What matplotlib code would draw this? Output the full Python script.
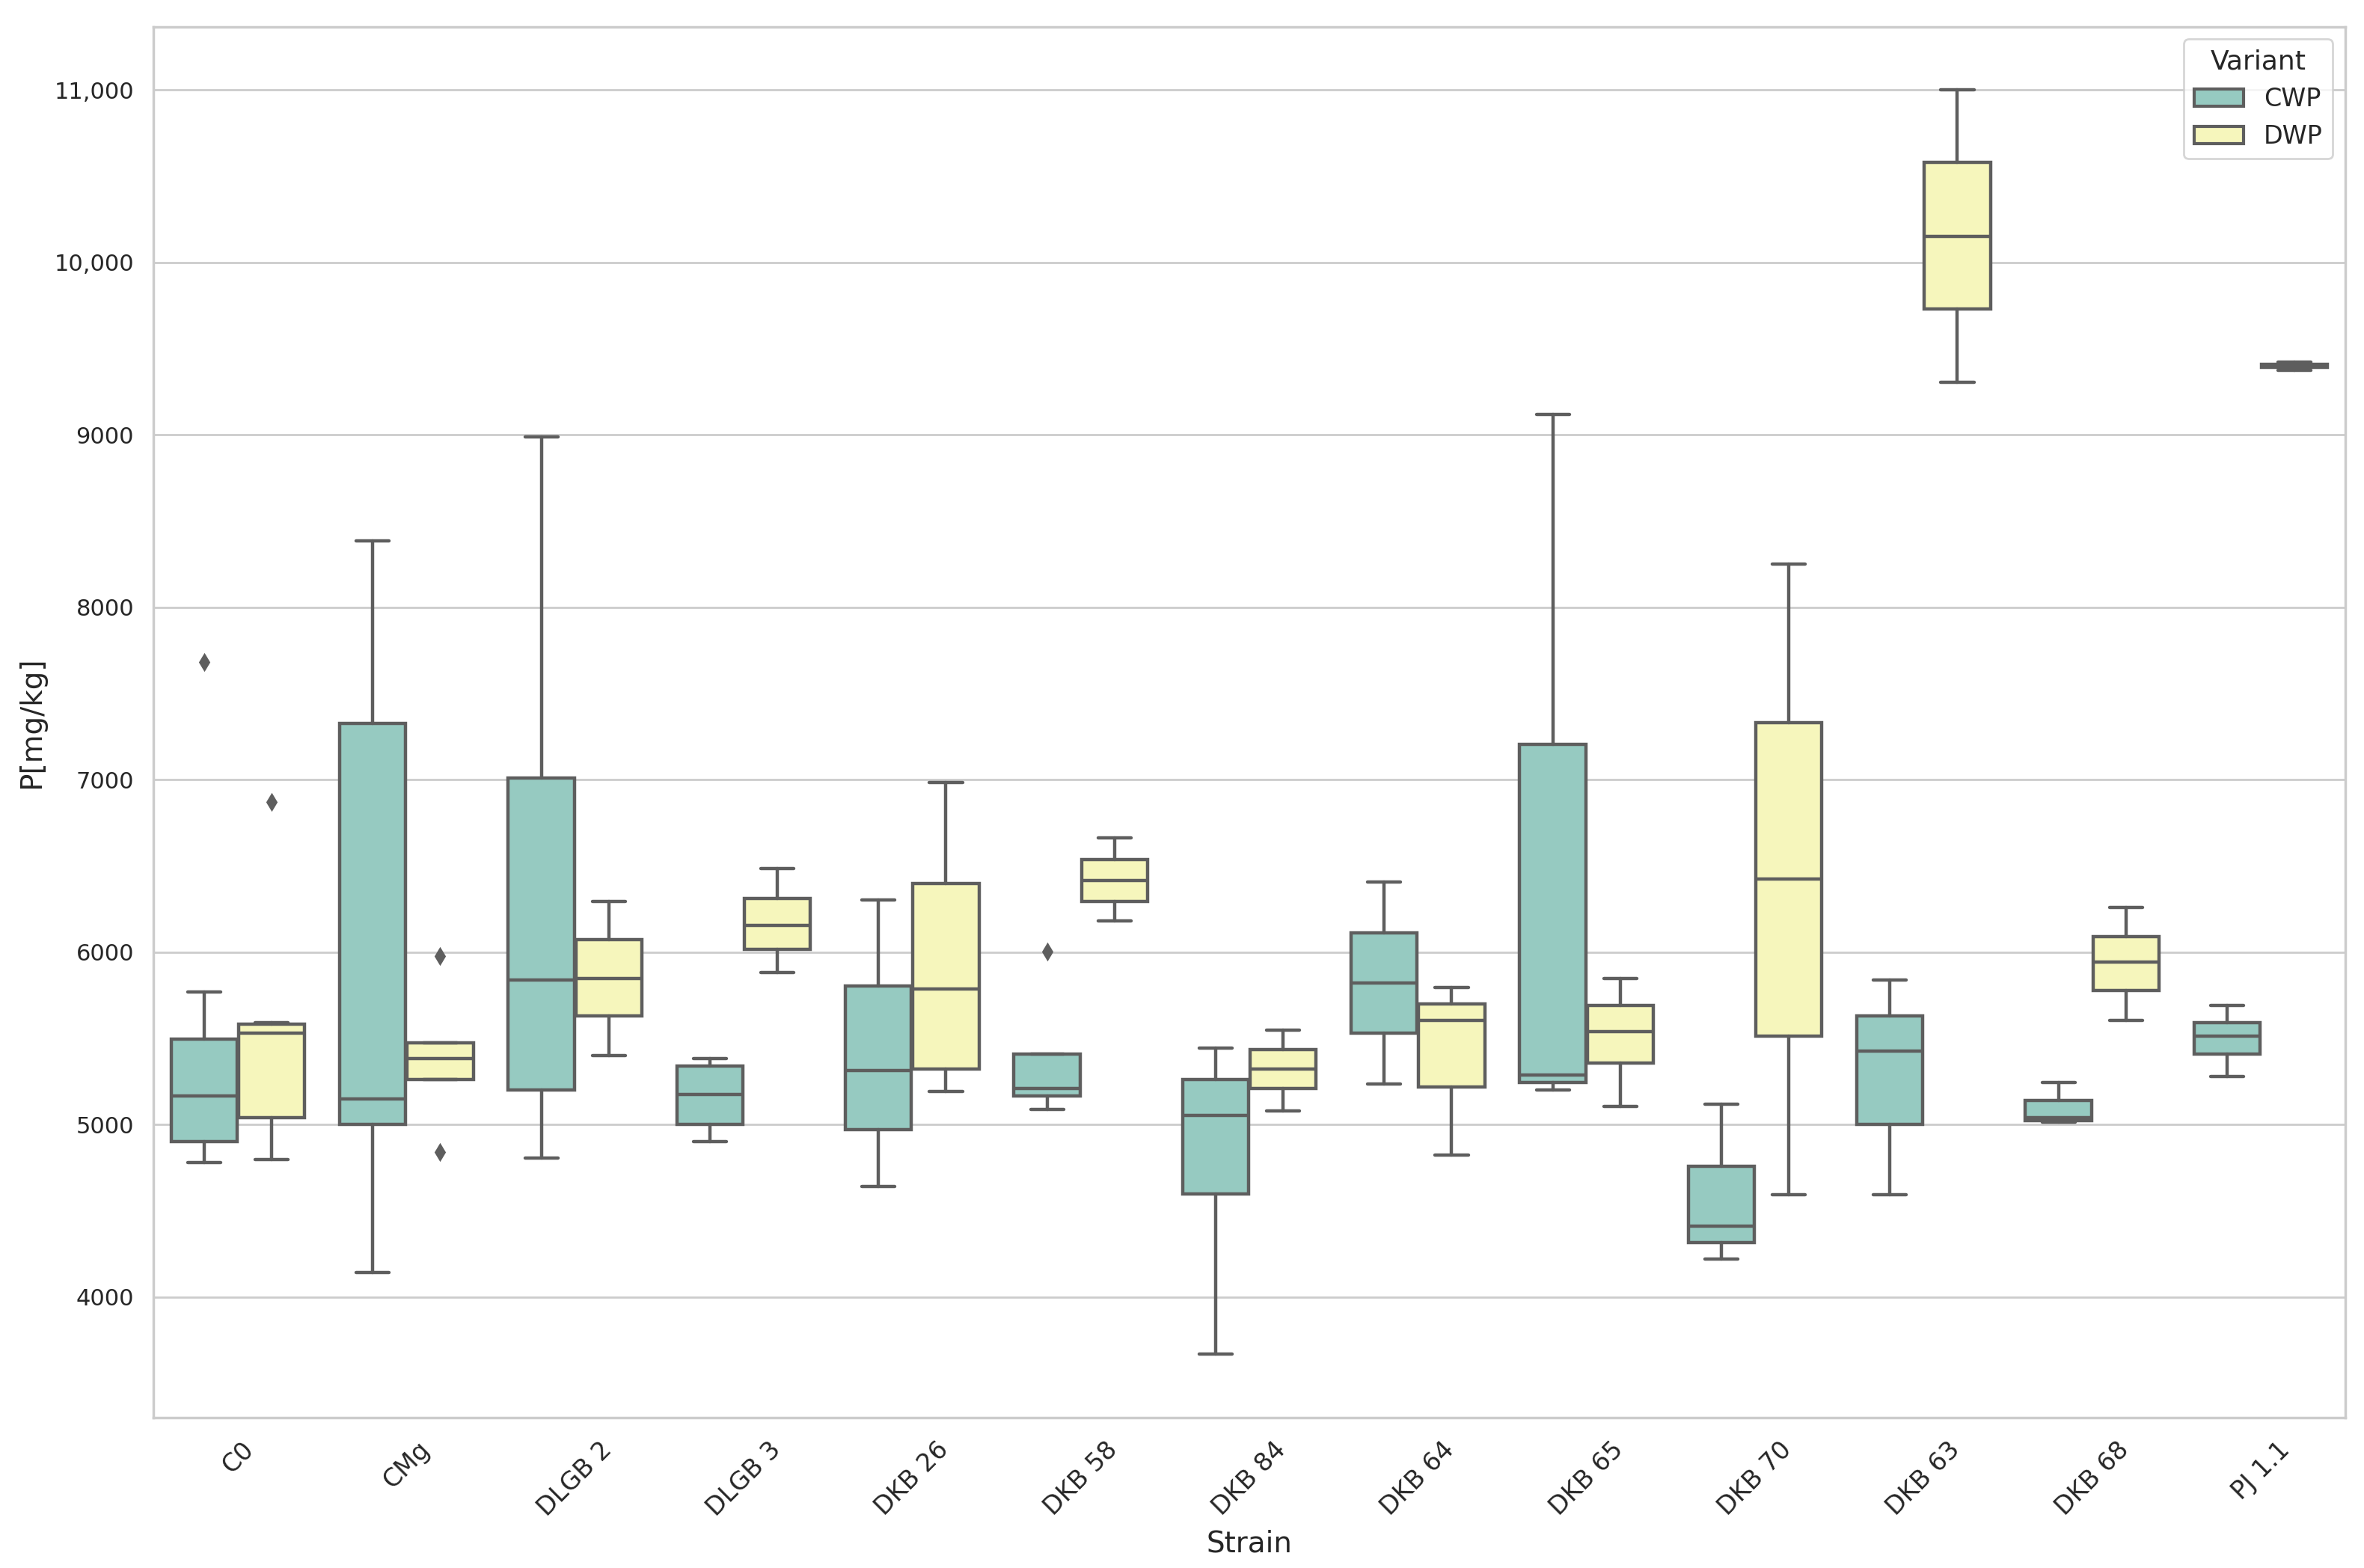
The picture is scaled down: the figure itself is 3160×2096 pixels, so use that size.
import colorsys
import matplotlib
matplotlib.use("Agg")
import matplotlib.pyplot as plt
import matplotlib.colors as mcolors
from matplotlib.patches import Patch
from matplotlib.ticker import FuncFormatter
import seaborn as sns

sns.set_theme(style="whitegrid")
plt.rcParams['font.family'] = ['DejaVu Sans']

# kategorie (szczepy) i warianty
strains = ["C0", "CMg", "DLGB 2", "DLGB 3", "DKB 26", "DKB 58", "DKB 84",
           "DKB 64", "DKB 65", "DKB 70", "DKB 63", "DKB 68", "PJ 1.1"]
variants = ["CWP", "DWP"]

# statystyki - CWP
cwp_whislo = [4780, 4141, 4806, 4902, 4640, 5086, 3668, 5234, 5199, 4219, 4593, 5016, 5278]
cwp_q1 = [4902, 5000, 5199, 5000, 4972, 5164, 4596, 5532, 5243, 4316, 5003, 5024, 5409]
cwp_med = [5164, 5147, 5838, 5173, 5313, 5208, 5052, 5821, 5287, 4413, 5424, 5042, 5514]
cwp_q3 = [5497, 7325, 7010, 5339, 5803, 5409, 5260, 6110, 7203, 4759, 5632, 5138, 5593]
cwp_whishi = [5768, 8384, 8988, 5383, 6302, 5409, 5444, 6407, 9119, 5119, 5839, 5243, 5689]
cwp_fliers = [[7684], [], [], [], [], [6004], [], [], [], [], [], [], []]

# DWP
dwp_whislo = [4797, 5260, 5401, 5882, 5190, 6180, 5077, 4823, 5103, 4593, 9303, 5602, 9375]
dwp_q1 = [5042, 5260, 5628, 6014, 5322, 6293, 5208, 5217, 5357, 5512, 9731, 5777, 9390]
dwp_med = [5532, 5383, 5847, 6153, 5786, 6416, 5322, 5602, 5540, 6424, 10151, 5943, 9400]
dwp_q3 = [5584, 5472, 6074, 6311, 6398, 6538, 5436, 5698, 5689, 7330, 10580, 6092, 9410]
dwp_whishi = [5590, 5472, 6293, 6486, 6984, 6661, 5549, 5794, 5847, 8249, 11000, 6258, 9420]
dwp_fliers = [[6870], [5978, 4841], [], [], [], [], [], [], [], [], [], [], []]


def desat(c, s=0.75):
    r, g, b = mcolors.to_rgb(c)
    h, l, sat = colorsys.rgb_to_hls(r, g, b)
    return colorsys.hls_to_rgb(h, l, sat * s)


pal = sns.color_palette("Set3", 2)
colors = [desat(c) for c in pal]
gray = (0.37, 0.37, 0.37)

fig, ax = plt.subplots(figsize=(15.8, 10.48), dpi=200)
fig.subplots_adjust(left=0.065, right=0.992, top=0.983, bottom=0.096)

series = [
    (cwp_whislo, cwp_q1, cwp_med, cwp_q3, cwp_whishi, cwp_fliers),
    (dwp_whislo, dwp_q1, dwp_med, dwp_q3, dwp_whishi, dwp_fliers),
]
offsets = [-0.2, 0.2]

for k, (lo, q1, med, q3, hi, fl) in enumerate(series):
    stats = []
    for i in range(len(strains)):
        stats.append({"whislo": lo[i], "q1": q1[i], "med": med[i], "q3": q3[i],
                      "whishi": hi[i], "fliers": fl[i]})
    pos = [i + offsets[k] for i in range(len(strains))]
    ax.bxp(stats, positions=pos, widths=0.392, patch_artist=True, showfliers=True,
           manage_ticks=False,
           boxprops=dict(facecolor=colors[k], edgecolor=gray, linewidth=1.6),
           medianprops=dict(color=gray, linewidth=1.6),
           whiskerprops=dict(color=gray, linewidth=1.6),
           capprops=dict(color=gray, linewidth=1.6),
           flierprops=dict(marker="d", markerfacecolor=gray, markeredgecolor=gray,
                           markersize=5, linestyle="none"))

ax.set_xlim(-0.5, len(strains) - 0.5)
ax.set_xticks(range(len(strains)))
ax.set_xticklabels(strains, rotation=45, fontsize=12)
ax.tick_params(axis="y", labelsize=11)
ax.xaxis.grid(False)
ax.margins(y=0.05)
ax.autoscale(axis="y")
ax.yaxis.set_major_formatter(FuncFormatter(lambda v, p: f"{v:,.0f}" if v >= 10000 else f"{v:.0f}"))

ax.set_xlabel("Strain", fontsize=14)
ax.set_ylabel("P[mg/kg]", fontsize=14)

handles = [Patch(facecolor=colors[k], edgecolor=gray, linewidth=1.5, label=variants[k])
           for k in range(2)]
ax.legend(handles=handles, title="Variant", loc="upper right", fontsize=12, title_fontsize=13)

plt.savefig("out.png", dpi=200)
